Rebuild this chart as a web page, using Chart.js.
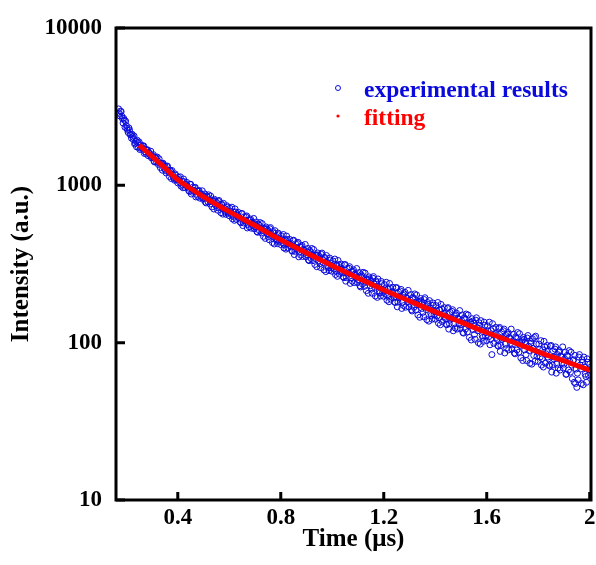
<!DOCTYPE html>
<html>
<head>
<meta charset="utf-8">
<script src="https://cdn.jsdelivr.net/npm/chart.js@4.4.0/dist/chart.umd.min.js"></script>
<style>
  html, body { margin: 0; padding: 0; background: #fff; }
  #wrap { width: 596px; height: 565px; }
</style>
</head>
<body>
<div id="wrap"><canvas id="decayChart" width="596" height="565"></canvas></div>
<script>
// Decay curve data (time in us, intensity in a.u.)
// channels are listed in two passes: whole 5 ns steps, then the half-step channels
const expTime = [
  0.170, 0.175, 0.180, 0.185, 0.190, 0.195, 0.200, 0.205, 0.210, 0.215, 0.220, 0.225, 0.230, 0.235, 0.240, 0.245,
  0.250, 0.255, 0.260, 0.265, 0.270, 0.275, 0.280, 0.285, 0.290, 0.295,
  0.300, 0.305, 0.310, 0.315, 0.320, 0.325, 0.330, 0.335, 0.340, 0.345,
  0.350, 0.355, 0.360, 0.365, 0.370, 0.375, 0.380, 0.385, 0.390, 0.395,
  0.400, 0.405, 0.410, 0.415, 0.420, 0.425, 0.430, 0.435, 0.440, 0.445,
  0.450, 0.455, 0.460, 0.465, 0.470, 0.475, 0.480, 0.485, 0.490, 0.495,
  0.500, 0.505, 0.510, 0.515, 0.520, 0.525, 0.530, 0.535, 0.540, 0.545,
  0.550, 0.555, 0.560, 0.565, 0.570, 0.575, 0.580, 0.585, 0.590, 0.595,
  0.600, 0.605, 0.610, 0.615, 0.620, 0.625, 0.630, 0.635, 0.640, 0.645,
  0.650, 0.655, 0.660, 0.665, 0.670, 0.675, 0.680, 0.685, 0.690, 0.695,
  0.700, 0.705, 0.710, 0.715, 0.720, 0.725, 0.730, 0.735, 0.740, 0.745,
  0.750, 0.755, 0.760, 0.765, 0.770, 0.775, 0.780, 0.785, 0.790, 0.795,
  0.800, 0.805, 0.810, 0.815, 0.820, 0.825, 0.830, 0.835, 0.840, 0.845,
  0.850, 0.855, 0.860, 0.865, 0.870, 0.875, 0.880, 0.885, 0.890, 0.895,
  0.900, 0.905, 0.910, 0.915, 0.920, 0.925, 0.930, 0.935, 0.940, 0.945,
  0.950, 0.955, 0.960, 0.965, 0.970, 0.975, 0.980, 0.985, 0.990, 0.995,
  1.000, 1.005, 1.010, 1.015, 1.020, 1.025, 1.030, 1.035, 1.040, 1.045,
  1.050, 1.055, 1.060, 1.065, 1.070, 1.075, 1.080, 1.085, 1.090, 1.095,
  1.100, 1.105, 1.110, 1.115, 1.120, 1.125, 1.130, 1.135, 1.140, 1.145,
  1.150, 1.155, 1.160, 1.165, 1.170, 1.175, 1.180, 1.185, 1.190, 1.195,
  1.200, 1.205, 1.210, 1.215, 1.220, 1.225, 1.230, 1.235, 1.240, 1.245,
  1.250, 1.255, 1.260, 1.265, 1.270, 1.275, 1.280, 1.285, 1.290, 1.295,
  1.300, 1.305, 1.310, 1.315, 1.320, 1.325, 1.330, 1.335, 1.340, 1.345,
  1.350, 1.355, 1.360, 1.365, 1.370, 1.375, 1.380, 1.385, 1.390, 1.395,
  1.400, 1.405, 1.410, 1.415, 1.420, 1.425, 1.430, 1.435, 1.440, 1.445,
  1.450, 1.455, 1.460, 1.465, 1.470, 1.475, 1.480, 1.485, 1.490, 1.495,
  1.500, 1.505, 1.510, 1.515, 1.520, 1.525, 1.530, 1.535, 1.540, 1.545,
  1.550, 1.555, 1.560, 1.565, 1.570, 1.575, 1.580, 1.585, 1.590, 1.595,
  1.600, 1.605, 1.610, 1.615, 1.620, 1.625, 1.630, 1.635, 1.640, 1.645,
  1.650, 1.655, 1.660, 1.665, 1.670, 1.675, 1.680, 1.685, 1.690, 1.695,
  1.700, 1.705, 1.710, 1.715, 1.720, 1.725, 1.730, 1.735, 1.740, 1.745,
  1.750, 1.755, 1.760, 1.765, 1.770, 1.775, 1.780, 1.785, 1.790, 1.795,
  1.800, 1.805, 1.810, 1.815, 1.820, 1.825, 1.830, 1.835, 1.840, 1.845,
  1.850, 1.855, 1.860, 1.865, 1.870, 1.875, 1.880, 1.885, 1.890, 1.895,
  1.900, 1.905, 1.910, 1.915, 1.920, 1.925, 1.930, 1.935, 1.940, 1.945,
  1.950, 1.955, 1.960, 1.965, 1.970, 1.975, 1.980, 1.985, 1.990, 1.995,
  2.000,
  0.1725, 0.1775, 0.1825, 0.1875, 0.1925, 0.1975, 0.2025, 0.2075, 0.2125, 0.2175, 0.2225, 0.2275, 0.2325, 0.2375, 0.2425, 0.2475,
  0.2525, 0.2575, 0.2625, 0.2675, 0.2725, 0.2775, 0.2825, 0.2875, 0.2925, 0.2975,
  0.3025, 0.3075, 0.3125, 0.3175, 0.3225, 0.3275, 0.3325, 0.3375, 0.3425, 0.3475,
  0.3525, 0.3575, 0.3625, 0.3675, 0.3725, 0.3775, 0.3825, 0.3875, 0.3925, 0.3975,
  0.4025, 0.4075, 0.4125, 0.4175, 0.4225, 0.4275, 0.4325, 0.4375, 0.4425, 0.4475,
  0.4525, 0.4575, 0.4625, 0.4675, 0.4725, 0.4775, 0.4825, 0.4875, 0.4925, 0.4975,
  0.5025, 0.5075, 0.5125, 0.5175, 0.5225, 0.5275, 0.5325, 0.5375, 0.5425, 0.5475,
  0.5525, 0.5575, 0.5625, 0.5675, 0.5725, 0.5775, 0.5825, 0.5875, 0.5925, 0.5975,
  0.6025, 0.6075, 0.6125, 0.6175, 0.6225, 0.6275, 0.6325, 0.6375, 0.6425, 0.6475,
  0.6525, 0.6575, 0.6625, 0.6675, 0.6725, 0.6775, 0.6825, 0.6875, 0.6925, 0.6975,
  0.7025, 0.7075, 0.7125, 0.7175, 0.7225, 0.7275, 0.7325, 0.7375, 0.7425, 0.7475,
  0.7525, 0.7575, 0.7625, 0.7675, 0.7725, 0.7775, 0.7825, 0.7875, 0.7925, 0.7975,
  0.8025, 0.8075, 0.8125, 0.8175, 0.8225, 0.8275, 0.8325, 0.8375, 0.8425, 0.8475,
  0.8525, 0.8575, 0.8625, 0.8675, 0.8725, 0.8775, 0.8825, 0.8875, 0.8925, 0.8975,
  0.9025, 0.9075, 0.9125, 0.9175, 0.9225, 0.9275, 0.9325, 0.9375, 0.9425, 0.9475,
  0.9525, 0.9575, 0.9625, 0.9675, 0.9725, 0.9775, 0.9825, 0.9875, 0.9925, 0.9975,
  1.0025, 1.0075, 1.0125, 1.0175, 1.0225, 1.0275, 1.0325, 1.0375, 1.0425, 1.0475,
  1.0525, 1.0575, 1.0625, 1.0675, 1.0725, 1.0775, 1.0825, 1.0875, 1.0925, 1.0975,
  1.1025, 1.1075, 1.1125, 1.1175, 1.1225, 1.1275, 1.1325, 1.1375, 1.1425, 1.1475,
  1.1525, 1.1575, 1.1625, 1.1675, 1.1725, 1.1775, 1.1825, 1.1875, 1.1925, 1.1975,
  1.2025, 1.2075, 1.2125, 1.2175, 1.2225, 1.2275, 1.2325, 1.2375, 1.2425, 1.2475,
  1.2525, 1.2575, 1.2625, 1.2675, 1.2725, 1.2775, 1.2825, 1.2875, 1.2925, 1.2975,
  1.3025, 1.3075, 1.3125, 1.3175, 1.3225, 1.3275, 1.3325, 1.3375, 1.3425, 1.3475,
  1.3525, 1.3575, 1.3625, 1.3675, 1.3725, 1.3775, 1.3825, 1.3875, 1.3925, 1.3975,
  1.4025, 1.4075, 1.4125, 1.4175, 1.4225, 1.4275, 1.4325, 1.4375, 1.4425, 1.4475,
  1.4525, 1.4575, 1.4625, 1.4675, 1.4725, 1.4775, 1.4825, 1.4875, 1.4925, 1.4975,
  1.5025, 1.5075, 1.5125, 1.5175, 1.5225, 1.5275, 1.5325, 1.5375, 1.5425, 1.5475,
  1.5525, 1.5575, 1.5625, 1.5675, 1.5725, 1.5775, 1.5825, 1.5875, 1.5925, 1.5975,
  1.6025, 1.6075, 1.6125, 1.6175, 1.6225, 1.6275, 1.6325, 1.6375, 1.6425, 1.6475,
  1.6525, 1.6575, 1.6625, 1.6675, 1.6725, 1.6775, 1.6825, 1.6875, 1.6925, 1.6975,
  1.7025, 1.7075, 1.7125, 1.7175, 1.7225, 1.7275, 1.7325, 1.7375, 1.7425, 1.7475,
  1.7525, 1.7575, 1.7625, 1.7675, 1.7725, 1.7775, 1.7825, 1.7875, 1.7925, 1.7975,
  1.8025, 1.8075, 1.8125, 1.8175, 1.8225, 1.8275, 1.8325, 1.8375, 1.8425, 1.8475,
  1.8525, 1.8575, 1.8625, 1.8675, 1.8725, 1.8775, 1.8825, 1.8875, 1.8925, 1.8975,
  1.9025, 1.9075, 1.9125, 1.9175, 1.9225, 1.9275, 1.9325, 1.9375, 1.9425, 1.9475,
  1.9525, 1.9575, 1.9625, 1.9675, 1.9725, 1.9775, 1.9825, 1.9875, 1.9925, 1.9975
];
const expIntensity = [
  3060, 2760, 2940, 2660, 2665, 2340, 2400, 2240, 2320, 2100, 1995, 2030, 2060, 1855, 1755, 1865,
  1886, 1718, 1732, 1776, 1596, 1690, 1677, 1544, 1595, 1648,
  1510, 1567, 1407, 1492, 1513, 1354, 1377, 1380, 1248, 1355,
  1322, 1197, 1325, 1211, 1249, 1104, 1170, 1106, 1182, 1080,
  1036, 1087, 1133, 1013, 965, 1056, 1009, 1044, 961, 916,
  1016, 905, 925, 964, 844, 920, 919, 830, 875, 923,
  831, 882, 773, 845, 870, 761, 787, 798, 707, 798,
  781, 695, 801, 723, 761, 656, 716, 674, 742, 668,
  641, 686, 726, 634, 599, 677, 642, 674, 611, 578,
  662, 577, 595, 631, 536, 600, 603, 534, 574, 616,
  544, 585, 503, 560, 580, 498, 518, 529, 460, 530,
  519, 451, 539, 476, 508, 424, 474, 441, 497, 440,
  420, 456, 487, 418, 393, 453, 427, 453, 406, 381,
  448, 381, 396, 427, 351, 404, 407, 353, 386, 421,
  363, 397, 332, 378, 397, 332, 349, 358, 304, 361,
  353, 300, 371, 323, 349, 283, 324, 298, 345, 299,
  284, 313, 340, 284, 264, 314, 294, 316, 278, 259,
  314, 259, 273, 297, 238, 281, 284, 241, 268, 296,
  251, 279, 226, 265, 280, 228, 242, 250, 206, 255,
  248, 206, 263, 225, 247, 194, 227, 207, 245, 208,
  197, 220, 242, 198, 182, 223, 208, 225, 194, 180,
  224, 181, 193, 213, 165, 200, 204, 168, 191, 215,
  178, 202, 159, 192, 204, 161, 174, 181, 145, 185,
  180, 146, 193, 162, 180, 137, 165, 149, 179, 150,
  141, 161, 180, 144, 130, 164, 151, 167, 142, 130,
  167, 132, 141, 158, 119, 148, 150, 122, 141, 160,
  130, 150, 115, 142, 152, 117, 128, 134, 104, 137,
  133, 105, 144, 119, 134, 98, 121, 108, 135, 110,
  103, 119, 135, 105, 84, 123, 112, 125, 105, 95,
  125, 96, 105, 119, 86, 111, 113, 90, 106, 122,
  97, 113, 85, 107, 116, 87, 96, 101, 77, 105,
  101, 77, 111, 89, 102, 73, 92, 108, 110, 82,
  76, 91, 103, 79, 70, 94, 85, 96, 79, 71,
  96, 72, 79, 91, 64, 84, 87, 67, 81, 94,
  73, 87, 63, 82, 89, 65, 72, 77, 56, 55,
  52, 58, 84, 68, 78, 54, 70, 61, 79, 62,
  73,
  2870, 2964, 2760, 2488, 2591, 2559, 2303, 2165, 2252, 2105, 2113, 1950, 1833, 1909, 1934, 1745,
  1689, 1803, 1733, 1782, 1638, 1587, 1683, 1618, 1554, 1496,
  1532, 1423, 1514, 1404, 1426, 1474, 1294, 1377, 1383, 1284,
  1239, 1319, 1248, 1137, 1226, 1242, 1128, 1077, 1156, 1094,
  1127, 1044, 988, 1060, 1097, 969, 1013, 979, 926, 1015,
  881, 971, 930, 972, 878, 849, 927, 887, 850, 816,
  851, 782, 856, 784, 810, 855, 729, 800, 815, 748,
  722, 792, 747, 670, 747, 768, 687, 654, 725, 683,
  715, 653, 612, 674, 708, 608, 647, 623, 584, 660,
  555, 631, 601, 639, 565, 545, 611, 582, 555, 529,
  560, 508, 568, 514, 534, 571, 474, 531, 544, 492,
  472, 530, 495, 433, 497, 515, 451, 426, 485, 452,
  478, 431, 400, 449, 476, 401, 432, 414, 385, 445,
  363, 425, 402, 434, 376, 360, 415, 392, 371, 352,
  377, 336, 385, 343, 360, 391, 314, 361, 372, 332,
  317, 364, 337, 290, 342, 358, 307, 287, 335, 310,
  331, 294, 271, 311, 333, 273, 299, 285, 262, 312,
  246, 296, 278, 304, 258, 246, 290, 273, 256, 241,
  262, 230, 270, 236, 251, 277, 214, 253, 262, 230,
  219, 257, 236, 198, 241, 254, 213, 198, 237, 217,
  234, 205, 186, 219, 238, 189, 211, 200, 181, 223,
  169, 210, 197, 218, 181, 172, 209, 194, 182, 169,
  187, 162, 194, 168, 180, 201, 150, 183, 191, 165,
  156, 188, 170, 140, 175, 185, 153, 141, 173, 157,
  172, 148, 133, 161, 175, 136, 154, 145, 131, 165,
  122, 156, 144, 162, 132, 124, 154, 143, 132, 123,
  138, 116, 144, 122, 132, 150, 108, 135, 142, 121,
  113, 139, 125, 100, 129, 138, 111, 102, 129, 116,
  128, 109, 97, 119, 132, 99, 114, 108, 96, 123,
  88, 117, 107, 122, 98, 92, 116, 108, 99, 91,
  103, 86, 109, 90, 100, 114, 80, 103, 108, 90,
  84, 107, 95, 74, 99, 106, 83, 76, 98, 87,
  98, 81, 72, 90, 102, 74, 88, 81, 72, 95,
  65, 89, 81, 94, 73, 69, 89, 82, 74, 69,
  79, 63, 83, 67, 76, 87, 59, 78, 83, 68,
  64, 81, 72, 55, 75, 81, 63, 56, 75, 67
];
const fitTime = [0.25, 0.30, 0.35, 0.40, 0.45, 0.50, 0.55, 0.60, 0.70, 0.80, 0.90, 1.00,
  1.10, 1.20, 1.30, 1.40, 1.50, 1.60, 1.70, 1.80, 1.90, 2.00];
const fitIntensity = [1800, 1530, 1290, 1085, 955, 845, 757, 680, 555, 450, 372, 308,
  258, 216, 184, 157, 135, 116, 101, 87.5, 76.5, 67];
const xTicks = [0.4, 0.8, 1.2, 1.6, 2];
const yTicks = [10, 100, 1000, 10000];
const legendLabels = ['experimental results', 'fitting'];

const serif = '"Liberation Serif", "Times New Roman", serif';
const blue = 'rgb(10,10,220)';
const red = '#ff0000';

// box around the plot + inward ticks
const framePlugin = {
    id: 'frame',
    afterDatasetsDraw(chart) {
        const { ctx, chartArea: a, scales } = chart;
        ctx.save();
        ctx.strokeStyle = '#000';
        ctx.lineWidth = 3;
        ctx.beginPath();
        xTicks.forEach(v => {
            const px = scales.x.getPixelForValue(v);
            ctx.moveTo(px, a.bottom);
            ctx.lineTo(px, a.bottom - 8);
        });
        yTicks.forEach(v => {
            const py = scales.y.getPixelForValue(v);
            ctx.moveTo(a.left, py);
            ctx.lineTo(a.left + 9, py);
        });
        ctx.stroke();
        ctx.strokeRect(a.left, a.top, a.right - a.left, a.bottom - a.top);
        ctx.restore();
    }
};

// legend in the upper right of the plot
const legendPlugin = {
    id: 'cornerLegend',
    afterDraw(chart) {
        const { ctx, chartArea: a } = chart;
        const mx = a.left + 222;
        const tx = a.left + 248;
        ctx.save();
        ctx.font = 'bold 23.5px ' + serif;
        ctx.textBaseline = 'alphabetic';
        ctx.strokeStyle = blue;
        ctx.lineWidth = 1;
        ctx.beginPath();
        ctx.arc(mx, a.top + 60, 2.5, 0, Math.PI * 2);
        ctx.stroke();
        ctx.fillStyle = blue;
        ctx.fillText(legendLabels[0], tx, a.top + 68.5);
        ctx.fillStyle = red;
        ctx.beginPath();
        ctx.arc(mx, a.top + 88, 1.6, 0, Math.PI * 2);
        ctx.fill();
        ctx.fillText(legendLabels[1], tx, a.top + 97);
        ctx.restore();
    }
};

const tickFont = { family: serif, size: 23, weight: 'bold' };
const titleFont = { family: serif, size: 25, weight: 'bold' };

new Chart(document.getElementById('decayChart'), {
    type: 'scatter',
    data: {
        datasets: [
            {
                type: 'line',
                label: legendLabels[1],
                data: fitTime.map((t, i) => ({ x: t, y: fitIntensity[i] })),
                borderColor: red,
                borderWidth: 5,
                pointRadius: 0,
                cubicInterpolationMode: 'monotone',
                fill: false,
                order: 0
            },
            {
                label: legendLabels[0],
                data: expTime.map((t, i) => ({ x: t, y: expIntensity[i] })),
                pointStyle: 'circle',
                pointRadius: 3,
                borderWidth: 1,
                borderColor: blue,
                backgroundColor: 'rgba(0,0,0,0)',
                order: 1
            }
        ]
    },
    options: {
        responsive: false,
        animation: false,
        layout: { padding: { left: 0, top: 28, right: 5, bottom: 0 } },
        plugins: {
            legend: { display: false },
            tooltip: { enabled: false }
        },
        scales: {
            x: {
                type: 'linear',
                min: 0.16,
                max: 2.005,
                afterBuildTicks: s => { s.ticks = xTicks.map(v => ({ value: v })); },
                afterFit: s => { s.height = 65; s.paddingLeft = 0; s.paddingRight = 0; },
                grid: { display: false, drawTicks: false },
                border: { display: false },
                ticks: {
                    color: '#000',
                    padding: 4,
                    font: tickFont,
                    maxRotation: 0,
                    autoSkip: false,
                    callback: v => String(v)
                },
                title: {
                    display: true,
                    text: 'Time (μs)',
                    color: '#000',
                    font: titleFont,
                    padding: { top: 0, bottom: 10 }
                }
            },
            y: {
                type: 'logarithmic',
                min: 10,
                max: 10000,
                afterBuildTicks: s => { s.ticks = yTicks.map(v => ({ value: v })); },
                afterFit: s => { s.width = 116; s.paddingTop = 0; s.paddingBottom = 0; },
                grid: { display: false, drawTicks: false },
                border: { display: false },
                ticks: {
                    color: '#000',
                    padding: 14,
                    font: tickFont,
                    autoSkip: false,
                    callback: v => String(v)
                },
                title: {
                    display: true,
                    text: 'Intensity (a.u.)',
                    color: '#000',
                    font: titleFont,
                    padding: { top: 7, bottom: 0 }
                }
            }
        }
    },
    plugins: [framePlugin, legendPlugin]
});
</script>
</body>
</html>
